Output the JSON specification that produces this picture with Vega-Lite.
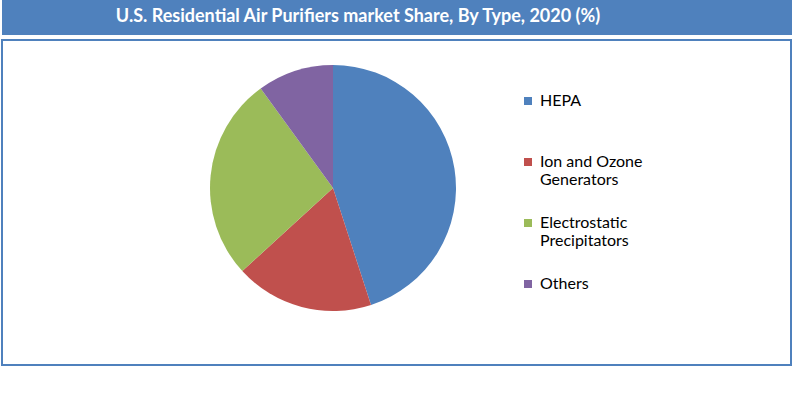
{
  "$schema": "https://vega.github.io/schema/vega-lite/v6.json",
  "padding": {"left": 1, "top": 0, "right": 0, "bottom": 0},
  "background": "white",
  "spacing": 4,
  "vconcat": [
    {
      "width": 790,
      "height": 35,
      "view": {"fill": "#4f81bd", "stroke": null},
      "data": {"values": [{"title": "U.S. Residential Air Purifiers market Share, By Type, 2020 (%)"}]},
      "mark": {"type": "text", "x": 356, "y": 17, "color": "white", "font": "Lato", "fontSize": 18, "fontWeight": "bold", "align": "center", "baseline": "middle"},
      "encoding": {"text": {"field": "title"}}
    },
    {
      "width": 789,
      "height": 325,
      "view": {"stroke": "#4f81bd", "strokeWidth": 2, "fill": "white"},
      "data": {
        "values": [
          {"type": "HEPA", "share": 45, "order": 1},
          {"type": "Ion and Ozone Generators", "share": 18.2, "order": 2},
          {"type": "Electrostatic Precipitators", "share": 26.8, "order": 3},
          {"type": "Others", "share": 10, "order": 4}
        ]
      },
      "mark": {"type": "arc", "outerRadius": 123, "x": 331, "y": 148},
      "encoding": {
        "theta": {"field": "share", "type": "quantitative", "stack": true},
        "order": {"field": "order", "type": "quantitative"},
        "color": {
          "field": "type",
          "type": "nominal",
          "sort": ["HEPA", "Ion and Ozone Generators", "Electrostatic Precipitators", "Others"],
          "scale": {
            "domain": ["HEPA", "Ion and Ozone Generators", "Electrostatic Precipitators", "Others"],
            "range": ["#4f81bd", "#c0504d", "#9bbb59", "#8064a2"]
          },
          "legend": {
            "title": null,
            "orient": "none",
            "legendX": 518,
            "legendY": 98,
            "symbolType": "M-1,-2.25H1V-0.25H-1Z",
            "symbolSize": 64,
            "symbolStrokeWidth": 0,
            "labelFont": "Lato",
            "labelFontSize": 16,
            "labelColor": "black",
            "labelBaseline": "alphabetic",
            "labelOffset": 4,
            "labelLimit": 300,
            "rowPadding": 27,
            "labelExpr": "datum.label == 'HEPA' ? ['HEPA', ' '] : datum.label == 'Ion and Ozone Generators' ? ['Ion and Ozone', 'Generators'] : datum.label == 'Electrostatic Precipitators' ? ['Electrostatic', 'Precipitators'] : ['Others', ' ']"
          }
        }
      }
    }
  ]
}
